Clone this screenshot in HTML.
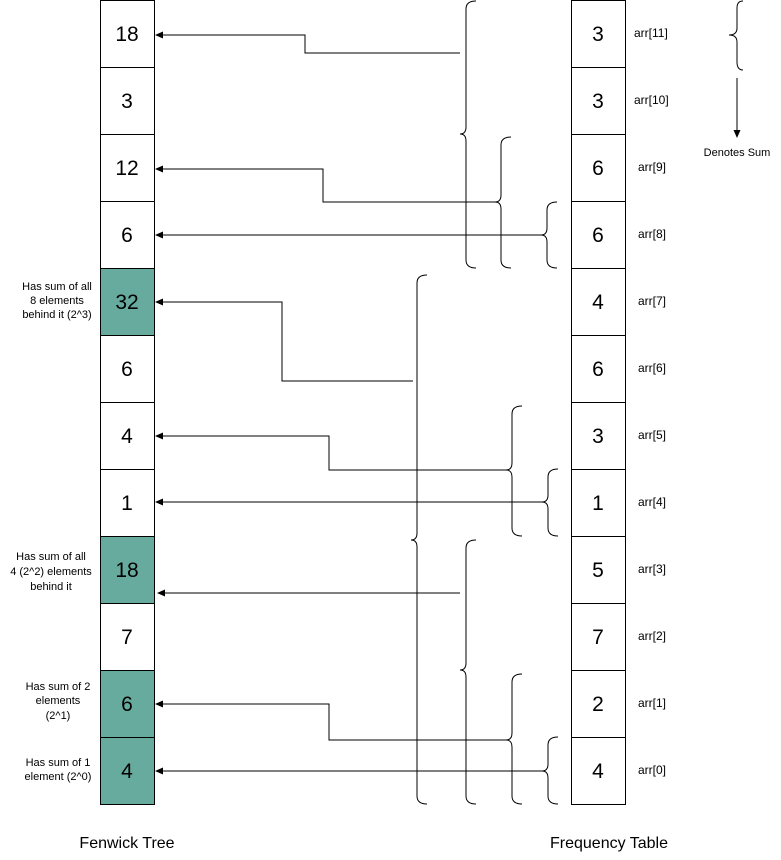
<!DOCTYPE html>
<html><head><meta charset="utf-8"><style>
html,body{margin:0;padding:0;background:#fff;}
svg{display:block;font-family:"Liberation Sans",Arial,sans-serif;}
</style></head><body>
<svg width="781" height="860" viewBox="0 0 781 860" xmlns="http://www.w3.org/2000/svg">
<defs><marker id="ah" markerWidth="8" markerHeight="8" refX="7" refY="4" orient="auto" markerUnits="userSpaceOnUse"><path d="M0,0.5 L8,4 L0,7.5 Z" fill="#000"/></marker></defs>
<g stroke="#000" stroke-width="1">
<rect x="100.5" y="0.5" width="54" height="67" fill="#fff"/>
<rect x="100.5" y="67.5" width="54" height="67" fill="#fff"/>
<rect x="100.5" y="134.5" width="54" height="67" fill="#fff"/>
<rect x="100.5" y="201.5" width="54" height="67" fill="#fff"/>
<rect x="100.5" y="268.5" width="54" height="67" fill="#67ab9f"/>
<rect x="100.5" y="335.5" width="54" height="67" fill="#fff"/>
<rect x="100.5" y="402.5" width="54" height="67" fill="#fff"/>
<rect x="100.5" y="469.5" width="54" height="67" fill="#fff"/>
<rect x="100.5" y="536.5" width="54" height="67" fill="#67ab9f"/>
<rect x="100.5" y="603.5" width="54" height="67" fill="#fff"/>
<rect x="100.5" y="670.5" width="54" height="67" fill="#67ab9f"/>
<rect x="100.5" y="737.5" width="54" height="67" fill="#67ab9f"/>
</g>
<g stroke="#000" stroke-width="1" fill="#fff">
<rect x="571.5" y="0.5" width="54" height="67"/>
<rect x="571.5" y="67.5" width="54" height="67"/>
<rect x="571.5" y="134.5" width="54" height="67"/>
<rect x="571.5" y="201.5" width="54" height="67"/>
<rect x="571.5" y="268.5" width="54" height="67"/>
<rect x="571.5" y="335.5" width="54" height="67"/>
<rect x="571.5" y="402.5" width="54" height="67"/>
<rect x="571.5" y="469.5" width="54" height="67"/>
<rect x="571.5" y="536.5" width="54" height="67"/>
<rect x="571.5" y="603.5" width="54" height="67"/>
<rect x="571.5" y="670.5" width="54" height="67"/>
<rect x="571.5" y="737.5" width="54" height="67"/>
</g>
<g font-size="21" text-anchor="middle" fill="#000">
<text x="127" y="41">18</text><text x="127" y="108">3</text><text x="127" y="175">12</text><text x="127" y="242">6</text>
<text x="127" y="309">32</text><text x="127" y="376">6</text><text x="127" y="443">4</text><text x="127" y="510">1</text>
<text x="127" y="577">18</text><text x="127" y="644">7</text><text x="127" y="711">6</text><text x="127" y="778">4</text>
<text x="598" y="41">3</text><text x="598" y="108">3</text><text x="598" y="175">6</text><text x="598" y="242">6</text>
<text x="598" y="309">4</text><text x="598" y="376">6</text><text x="598" y="443">3</text><text x="598" y="510">1</text>
<text x="598" y="577">5</text><text x="598" y="644">7</text><text x="598" y="711">2</text><text x="598" y="778">4</text>
</g>
<g font-size="12" fill="#000">
<text x="634" y="37">arr[11]</text><text x="634" y="104">arr[10]</text><text x="638" y="171">arr[9]</text><text x="638" y="238">arr[8]</text>
<text x="638" y="305">arr[7]</text><text x="638" y="372">arr[6]</text><text x="638" y="439">arr[5]</text><text x="638" y="506">arr[4]</text>
<text x="638" y="573">arr[3]</text><text x="638" y="640">arr[2]</text><text x="638" y="707">arr[1]</text><text x="638" y="774">arr[0]</text>
</g>
<g font-size="11" text-anchor="middle" fill="#000">
<text x="57" y="290">Has sum of all</text><text x="57" y="304">8 elements</text><text x="57" y="318">behind it (2^3)</text>
<text x="51" y="560">Has sum of all</text><text x="51" y="575">4 (2^2) elements</text><text x="51" y="590">behind it</text>
<text x="58" y="690">Has sum of  2</text><text x="58" y="704">elements</text><text x="58" y="719">(2^1)</text>
<text x="58" y="766">Has sum of  1</text><text x="58" y="780">element (2^0)</text>
<text x="737" y="156">Denotes Sum</text>
</g>
<g font-size="16" text-anchor="middle" fill="#000">
<text x="127" y="848">Fenwick Tree</text><text x="609" y="848">Frequency Table</text>
</g>
<g stroke="#000" stroke-width="1" fill="none">
<!-- braces -->
<path d="M476,1 Q466,1 466,9 L466,127 Q466,134 460,134 Q466,134 466,141 L466,260 Q466,268 476,268"/>
<path d="M511,137 Q501,137 501,145 L501,195 Q501,202 495,202 Q501,202 501,209 L501,260 Q501,268 511,268"/>
<path d="M557,202 Q547,202 547,210 L547,228 Q547,235 541,235 Q547,235 547,242 L547,260 Q547,268 557,268"/>
<path d="M427,275 Q417,275 417,283 L417,533 Q417,540 411,540 Q417,540 417,547 L417,796 Q417,804 427,804"/>
<path d="M522,406 Q512,406 512,414 L512,463 Q512,470 506,470 Q512,470 512,477 L512,528 Q512,536 522,536"/>
<path d="M558,469 Q548,469 548,477 L548,495 Q548,502 542,502 Q548,502 548,509 L548,528 Q548,536 558,536"/>
<path d="M476,540 Q466,540 466,548 L466,663 Q466,670 460,670 Q466,670 466,677 L466,796 Q466,804 476,804"/>
<path d="M522,674 Q512,674 512,682 L512,733 Q512,740 506,740 Q512,740 512,747 L512,796 Q512,804 522,804"/>
<path d="M558,737 Q548,737 548,745 L548,764 Q548,771 542,771 Q548,771 548,778 L548,796 Q548,804 558,804"/>
<path d="M743,1 Q737,1 737,8 L737,28 Q737,35 729,35 Q737,35 737,42 L737,62 Q737,70 743,70"/>
<!-- connectors -->
<path d="M460,53 L305,53 L305,35 L156,35" marker-end="url(#ah)"/>
<path d="M495,202 L323,202 L323,169 L156,169" marker-end="url(#ah)"/>
<path d="M541,235 L156,235" marker-end="url(#ah)"/>
<path d="M413,381 L282,381 L282,302 L156,302" marker-end="url(#ah)"/>
<path d="M506,470 L329,470 L329,436 L156,436" marker-end="url(#ah)"/>
<path d="M542,502 L156,502" marker-end="url(#ah)"/>
<path d="M460,593 L158,593" marker-end="url(#ah)"/>
<path d="M506,740 L329,740 L329,704 L156,704" marker-end="url(#ah)"/>
<path d="M542,771 L156,771" marker-end="url(#ah)"/>
<path d="M737,78 L737,137" marker-end="url(#ah)"/>
</g>
</svg>
</body></html>
